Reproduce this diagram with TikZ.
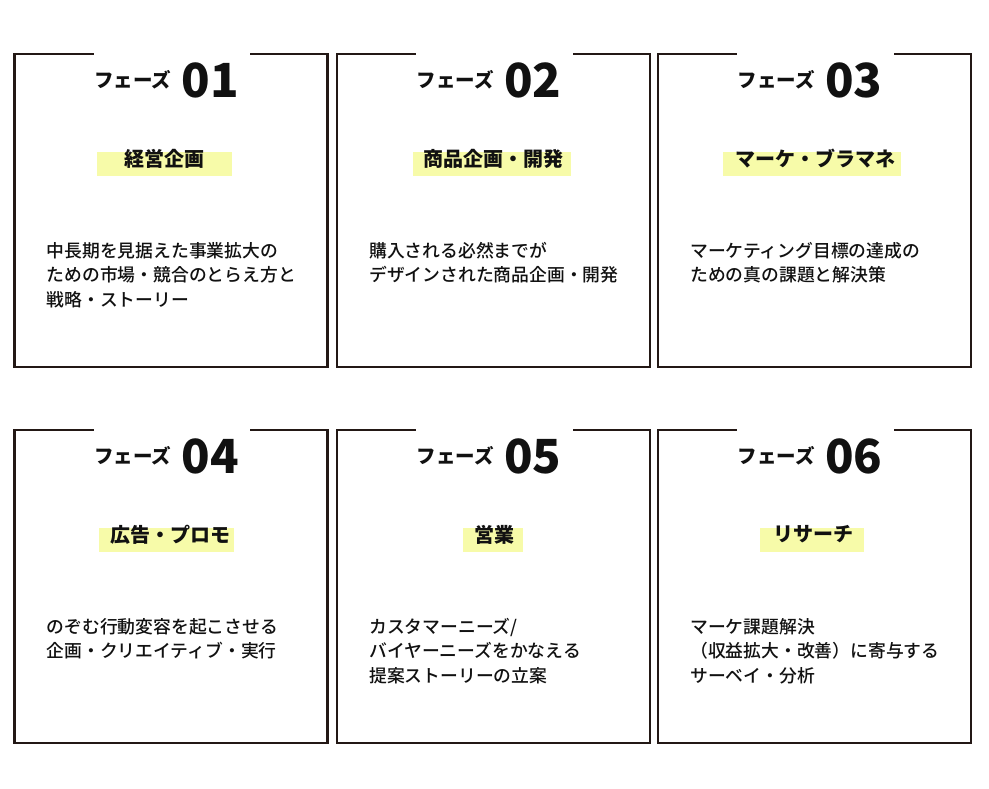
\documentclass[tikz,border=0pt]{standalone}
\usepackage{fontspec}
\setmainfont{Noto Sans CJK JP}
\newfontfamily\jpmed{Noto Sans CJK JP Medium}
\newfontfamily\jpblack{Noto Sans CJK JP Black}
\definecolor{boxcol}{HTML}{231815}
\definecolor{hlcol}{HTML}{F7FBA9}
\definecolor{txtcol}{HTML}{111111}
\tikzset{
  boxline/.style={draw=boxcol, line width=2.4pt, line cap=rect, line join=miter},
  hl/.style={fill=hlcol},
  phlabel/.style={inner sep=0pt, text=txtcol, font=\fontsize{19.5}{19.5}\selectfont\bfseries},
  phnum/.style={inner sep=0pt, text=txtcol, font=\fontsize{47}{47}\selectfont\jpblack},
  ttl/.style={inner sep=0pt, text=txtcol, font=\fontsize{20}{20}\selectfont\bfseries},
  bodytext/.style={inner sep=0pt, anchor=north west, align=left, text=txtcol, font=\fontsize{17.8}{24.5}\selectfont\jpmed}
}
\newcommand\phasebox[9]{%
  \draw[boxline] (#2+78,#3) -- (#2,#3) -- (#2,#3+313) -- (#2+313,#3+313) -- (#2+313,#3) -- (#2+237,#3);
  \node[phlabel, anchor=east] (h#1) at (#2+157,#3+26) {フェーズ};
  \node[phnum, anchor=west] (n#1) at (#2+167,#3+26) {#4};
  \fill[hl] (#7,#3+98) rectangle (#8,#3+122);
  \node[ttl] (t#1) at (#6,#3+104.5) {#5};
  \node[bodytext] (b#1) at (#2+32,#3+188) {#9};
}
\begin{document}
\begin{tikzpicture}[x=1pt,y=-1pt]
\useasboundingbox[fill=white] (0,0) rectangle (989,788);
\phasebox{1}{14.5}{54}{01}{経営企画}{164}{97}{232}{中長期を見据えた事業拡大の\\ための市場・競合のとらえ方と\\戦略・ストーリー}
\phasebox{2}{337}{54}{02}{商品企画・開発}{493.5}{413}{571}{購入される必然までが\\デザインされた商品企画・開発}
\phasebox{3}{658}{54}{03}{マーケ・ブラマネ}{815}{723}{901}{マーケティング目標の達成の\\ための真の課題と解決策}
\phasebox{4}{14.5}{430}{04}{広告・プロモ}{170}{99}{234}{のぞむ行動変容を起こさせる\\企画・クリエイティブ・実行}
\phasebox{5}{337}{430}{05}{営業}{494}{463}{523}{カスタマーニーズ/\\バイヤーニーズをかなえる\\提案ストーリーの立案}
\phasebox{6}{658}{430}{06}{リサーチ}{813}{760}{864}{マーケ課題解決\\（収益拡大・改善）に寄与する\\サーベイ・分析}
\end{tikzpicture}
\end{document}
